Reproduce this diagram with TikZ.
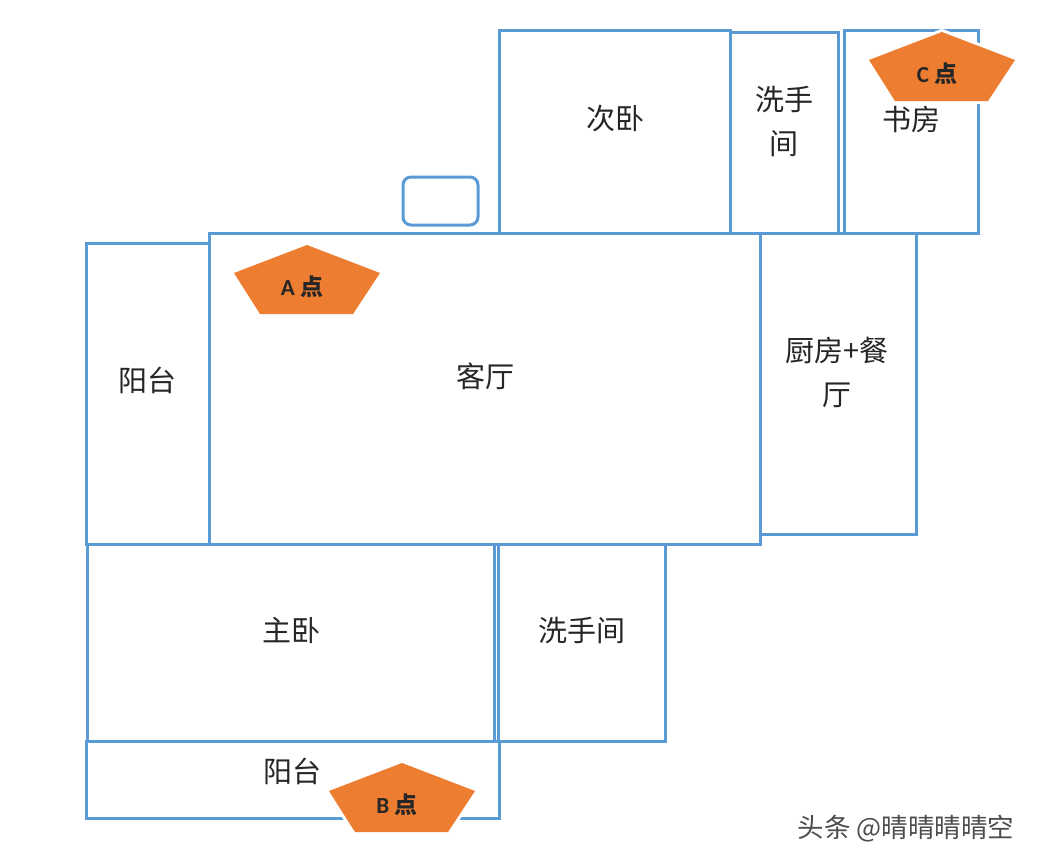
\documentclass[tikz,border=0pt]{standalone}
\usepackage{fontspec}
\setmainfont{Carlito}
\newfontfamily\cjk{Noto Sans CJK SC}
\definecolor{wallblue}{HTML}{5B9BD5}
\definecolor{spotorange}{HTML}{ED7D31}
\tikzset{
  wall/.style={draw=wallblue, line width=3pt},
  roomlabel/.style={font=\cjk\fontsize{29}{44}\selectfont, text=black!85, align=center, inner sep=0pt},
  spotlabel/.style={font=\fontsize{23}{24}\bfseries, text=black!85, inner sep=0pt},
}
\begin{document}
\begin{tikzpicture}[x=1pt, y=-1pt]
\useasboundingbox (0,0) rectangle (1037,865);
% Rooms
\draw[wall] (499,30) rectangle (730,233);
\draw[wall] (730,32) rectangle (838,233);
\draw[wall] (844,30) rectangle (978,233);
\draw[wall, rounded corners=8pt] (403,177) rectangle (478,225);
\draw[wall] (760,233) rectangle (916,534);
\draw[wall] (86,243) rectangle (209,544);
\draw[wall] (209,233) rectangle (760,544);
\draw[wall] (87,544) rectangle (494,741);
\draw[wall] (498,544) rectangle (665,741);
\draw[wall] (86,741) rectangle (499,818);

% Room labels
\node[roomlabel] (second) at (615,119) {次卧};
\node[roomlabel] (washtop) at (784,121) {洗手\\间};
\node[roomlabel] (study) at (911,119) {书房};
\node[roomlabel] (living) at (485,376) {客厅};
\node[roomlabel] (kitchen) at (837,372) {厨房+餐\\厅};
\node[roomlabel] (balconyleft) at (147,380) {阳台};
\node[roomlabel] (master) at (291,630) {主卧};
\node[roomlabel] (washlow) at (582,630) {洗手间};
\node[roomlabel] (balconylow) at (292,771) {阳台};

% Viewpoints
\foreach \px/\py/\tag in {307/245/A, 402/763/B, 942/32/C} {
  \draw[draw=white, line width=6pt, line join=miter]
    (\px,\py) -- ++(73,28) -- ++(-27,41) -- ++(-93,0) -- ++(-26,-41) -- cycle;
  \fill[spotorange]
    (\px,\py) -- ++(73,28) -- ++(-27,41) -- ++(-93,0) -- ++(-26,-41) -- cycle;
  \node[spotlabel] (spot\tag) at (\px-5,\py+42) {\tag\ {\cjk 点}};
}

% Watermark
\node[font=\cjk\fontsize{26.5}{28}\selectfont, text=black!70, inner sep=0pt] (mark) at (906,829) {头条 @晴晴晴晴空};
\end{tikzpicture}
\end{document}
